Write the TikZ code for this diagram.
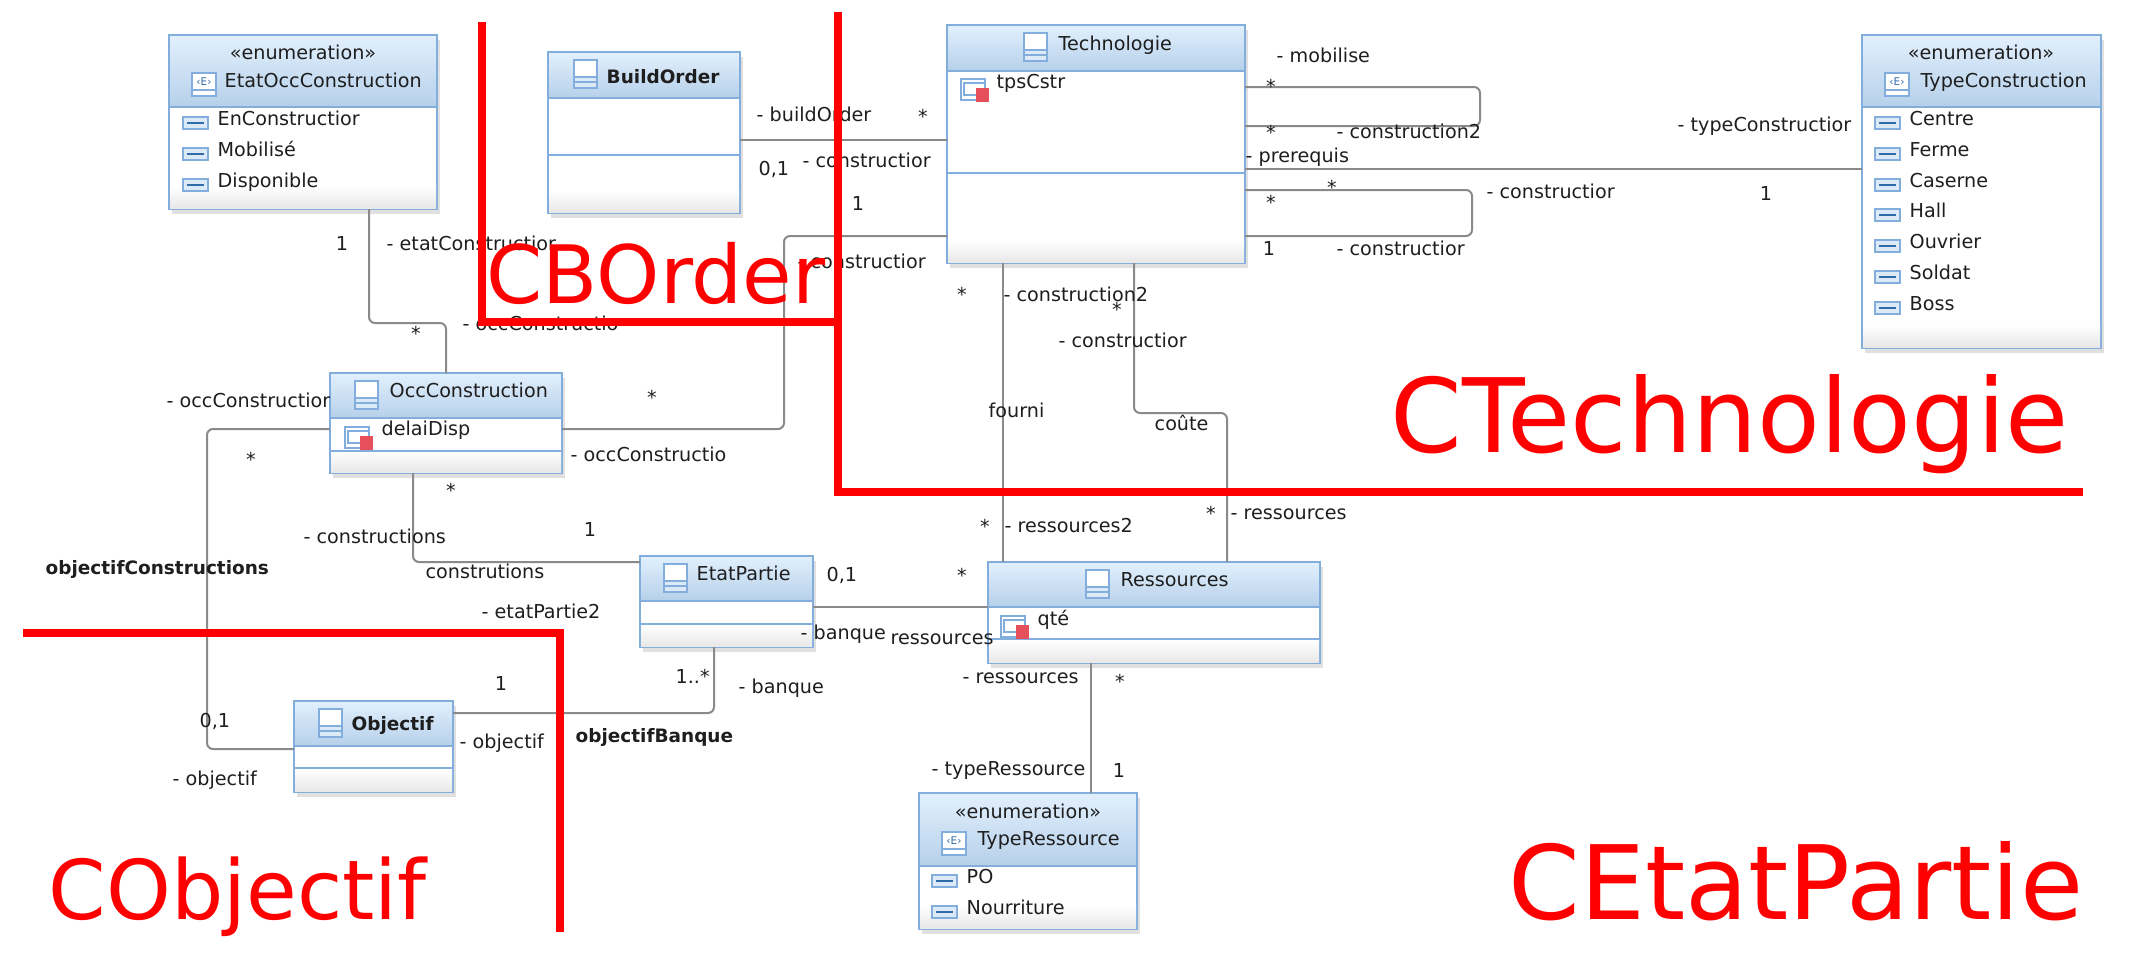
\documentclass[tikz,border=0pt]{standalone}
\usepackage{fontspec}
\setmainfont{DejaVu Sans}
\usetikzlibrary{shadows}
\definecolor{boxline}{HTML}{82ADDC}
\definecolor{headtop}{HTML}{E2F0FD}
\definecolor{headbot}{HTML}{B6D0EA}
\definecolor{footbot}{HTML}{E8E8E8}
\definecolor{connline}{HTML}{8A8A8A}
\definecolor{icondark}{HTML}{2F6CA8}
\definecolor{iconfill}{HTML}{DCE9F6}
\definecolor{attrred}{HTML}{E5505A}
\definecolor{txtcol}{HTML}{1E1E1E}
\tikzset{
  boxbody/.style={draw=boxline, line width=0.02cm, fill=white, rectangle, inner sep=0pt, outer sep=0pt, anchor=north west,
    drop shadow={shadow xshift=0.03cm, shadow yshift=-0.05cm, fill=black, opacity=0.12}},
  boxhead/.style={draw=boxline, line width=0.02cm, top color=headtop, bottom color=headbot, rectangle, inner sep=0pt, outer sep=0pt, anchor=north west},
  boxfoot/.style={top color=white, bottom color=footbot, rectangle, inner sep=0pt, outer sep=0pt, anchor=south west},
  sepline/.style={draw=boxline, line width=0.02cm},
  conn/.style={draw=connline, line width=0.02cm, rounded corners=0.06cm},
  lbl/.style={anchor=base west, inner sep=0pt, text=txtcol, font=\fontsize{5.45}{6.7}\selectfont},
  lblbold/.style={lbl, font=\fontsize{5.25}{6.7}\selectfont\bfseries},
  lblmid/.style={lbl, anchor=base},
  redline/.style={draw=red, line width=0.08cm},
  redtxt/.style={anchor=base west, inner sep=0pt, text=red},
  classicon/.pic={
    \draw[draw=boxline, fill=iconfill, line width=0.015cm] (0,0) rectangle (23,28);
    \fill[white] (1,1) rectangle (22,16);
    \draw[draw=boxline, line width=0.015cm] (0,17) -- (23,17) (0,22) -- (23,22);
  },
  enumicon/.pic={
    \draw[draw=boxline, fill=white, line width=0.015cm] (0,0) rectangle (24,23);
    \draw[draw=boxline, line width=0.015cm] (0,17) -- (24,17);
    \node[inner sep=0pt, text=icondark, font=\fontsize{3}{3}\selectfont] (-e) at (12,8.5) {‹E›};
  },
  litticon/.pic={
    \draw[draw=boxline, fill=iconfill, line width=0.015cm] (0,0) rectangle (25,12);
    \draw[draw=icondark, line width=0.015cm] (4,6) -- (21,6);
  },
  attricon/.pic={
    \draw[draw=boxline, fill=white, line width=0.015cm] (0,0) rectangle (24,21);
    \draw[draw=boxline, line width=0.015cm] (3,4) rectangle (24,16);
    \fill[attrred] (15,9) rectangle (28,23);
  }
}
\begin{document}
\begin{tikzpicture}[x=0.01cm,y=-0.01cm]
    \useasboundingbox (0,0) rectangle (2129,957);

    % draw boxes
    \foreach \nm/\x/\y/\w/\h/\hh in {etatOcc/169/35/268/174/72, buildOrder/548/52/192/161/46, occCons/330/373/232/100/45,
      techno/947/25/298/238/46, typeCons/1862/35/239/313/72, etatPartie/640/556/173/91/45,
      objectif/294/701/159/91/45, ressources/988/562/332/101/45, typeRess/919/793/218/136/73}
    {
      \node[boxbody, minimum width={\w*0.01cm}, minimum height={\h*0.01cm}] (\nm) at (\x,\y) {};
      \node[boxfoot, minimum width={(\w-2)*0.01cm}, minimum height=0.22cm] (\nm foot) at ([shift={(1,-1)}]\nm.south west) {};
      \node[boxhead, minimum width={\w*0.01cm}, minimum height={\hh*0.01cm}] (\nm head) at (\x,\y) {};
    }
    \foreach \nm/\yy in {buildOrder/155, occCons/451, techno/173, etatPartie/624, objectif/768, ressources/639}
    \draw[sepline] (\nm.west |- 0,\yy) -- (\nm.east |- 0,\yy);

    % draw connectors
    \draw[conn] (etatOcc.south -| 369,0) -- (369,323) -- (446,323) -- (occCons.north -| 446,0);
    \draw[conn] (buildOrder.east |- 0,140) -- (techno.west |- 0,140);
    \draw[conn] (techno.west |- 0,236) -- (784,236) -- (784,429) -- (occCons.east |- 0,429);
    \draw[conn] (occCons.west |- 0,429) -- (207,429) -- (207,749) -- (objectif.west |- 0,749);
    \draw[conn] (occCons.south -| 413,0) -- (413,562) -- (etatPartie.west |- 0,562);
    \draw[conn] (etatPartie.east |- 0,607) -- (ressources.west |- 0,607);
    \draw[conn] (etatPartie.south -| 714,0) -- (714,713) -- (objectif.east |- 0,713);
    \draw[conn] (techno.east |- 0,87) -- (1480,87) -- (1480,126) -- (techno.east |- 0,126);
    \draw[conn] (techno.east |- 0,169) -- (typeCons.west |- 0,169);
    \draw[conn] (techno.east |- 0,190) -- (1472,190) -- (1472,236) -- (techno.east |- 0,236);
    \draw[conn] (techno.south -| 1003,0) -- (ressources.north -| 1003,0);
    \draw[conn] (techno.south -| 1134,0) -- (1134,413) -- (1227,413) -- (ressources.north -| 1227,0);
    \draw[conn] (ressources.south -| 1091,0) -- (typeRess.north -| 1091,0);

    % draw icons
    \foreach \x/\y [count=\i] in {574/60, 355/381, 1024/33, 664/564, 319/709, 1086/570}
    \pic (icClass\i) at (\x,\y) {classicon};
    \foreach \x/\y [count=\i] in {192/73, 1885/73, 942/832}
    \pic (icEnum\i) at (\x,\y) {enumicon};
    \foreach \x/\y [count=\i] in {961/79, 345/427, 1001/616}
    \pic (icAttr\i) at (\x,\y) {attricon};

    % draw titles
    \foreach \x/\y/\txt [count=\i] in {224/87/EtatOccConstruction, 389/397/OccConstruction, 1058/50/Technologie,
      1920/87/TypeConstruction, 696/580/EtatPartie, 1120/586/Ressources, 977/845/TypeRessource,
      996/88/tpsCstr, 381/435/delaiDisp, 1037/625/qté}
    \node[lbl] (title\i) at (\x,\y) {\txt};
    \foreach \x/\y/\txt [count=\i] in {606/83/BuildOrder, 351/730/Objectif}
    \node[lblbold] (boldtitle\i) at (\x,\y) {\txt};
    \foreach \x/\y [count=\i] in {303/59, 1981/59, 1028/818}
    \node[lblmid] (stereo\i) at (\x,\y) {«enumeration»};

    % draw enum literals
    \foreach \x/\y/\txt [count=\i] in {217/125/EnConstructior, 217/156/Mobilisé, 217/187/Disponible,
      1909/125/Centre, 1909/156/Ferme, 1909/187/Caserne, 1909/217/Hall, 1909/248/Ouvrier, 1909/279/Soldat, 1909/310/Boss,
      966/883/PO, 966/914/Nourriture}
    {
      \pic (icLit\i) at (\x-34,\y-8) {litticon};
      \node[lbl] (lit\i) at (\x,\y) {\txt};
    }

    % draw connector labels
    \foreach \x/\y/\txt [count=\i] in {756/121/- buildOrder, 758/175/{0,1}, 802/167/- constructior, 386/250/- etatConstructior,
      462/330/- occConstructio, 797/268/- constructior, 166/407/- occConstructior, 570/461/- occConstructio,
      1276/62/- mobilise, 1336/138/- construction2, 1245/162/- prerequis, 1486/198/- constructior,
      1677/131/- typeConstructior, 1336/255/- constructior, 1003/301/- construction2, 1058/347/- constructior,
      988/417/fourni, 1154/430/coûte, 1004/532/- ressources2, 1230/519/- ressources, 826/581/{0,1},
      800/639/- banque, 890/644/ressources, 962/683/- ressources, 931/775/- typeRessource,
      303/543/- constructions, 425/578/construtions, 481/618/- etatPartie2, 675/683/1..*, 738/693/- banque,
      199/727/{0,1}, 459/748/- objectif, 172/785/- objectif}
    \node[lbl] (lbl\i) at (\x,\y) {\txt};
    \foreach \x/\y/\txt [count=\i] in {45/574/objectifConstructions, 575/742/objectifBanque}
    \node[lblbold] (boldlbl\i) at (\x,\y) {\txt};
    \foreach \x/\y [count=\i] in {858/210, 342/250, 1766/200, 1269/255, 1119/777, 590/536, 501/690}
    \node[lblmid] (one\i) at (\x,\y) {1};
    \foreach \x/\y [count=\i] in {923/123, 416/340, 962/301, 652/404, 251/466, 451/497, 1271/93, 1271/139, 1332/194,
      1271/209, 1117/316, 985/533, 1211/520, 962/582, 1120/688}
    \node[lblmid] (star\i) at (\x,\y) {*};

    % draw red frames
    \draw[redline] (482,22) -- (482,322) -- (838,322);
    \draw[redline] (838,12) -- (838,492) -- (2083,492);
    \draw[redline] (23,633) -- (560,633) -- (560,932);
    \node[redtxt, font=\fontsize{22.9}{27}\selectfont] (cBOrder) at (486,303) {CBOrder};
    \node[redtxt, font=\fontsize{29.2}{34}\selectfont] (cTechnologie) at (1390,452) {CTechnologie};
    \node[redtxt, font=\fontsize{23.45}{28}\selectfont] (cObjectif) at (48,919) {CObjectif};
    \node[redtxt, font=\fontsize{29.2}{34}\selectfont] (cEtatPartie) at (1508,919) {CEtatPartie};
\end{tikzpicture}
\end{document}
